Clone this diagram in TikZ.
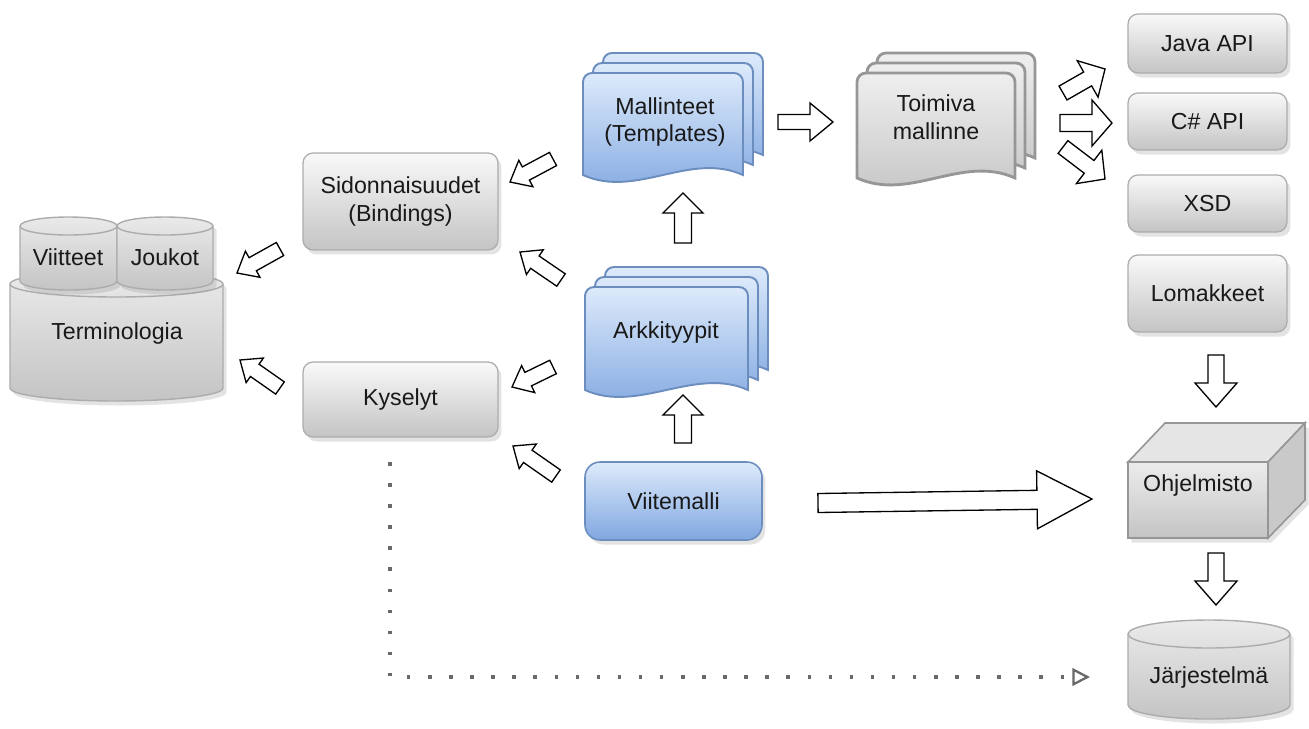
\documentclass[tikz,border=0pt]{standalone}
\usepackage{fontspec}
\setmainfont{Liberation Sans}
\usetikzlibrary{calc,shadows,arrows.meta}

\definecolor{blueTop}{RGB}{221,234,251}
\definecolor{blueBot}{RGB}{128,167,224}
\definecolor{blueLine}{RGB}{108,142,191}
\definecolor{grayTop}{RGB}{249,249,249}
\definecolor{grayBot}{RGB}{196,196,196}
\definecolor{grayLine}{RGB}{172,172,172}
\definecolor{docLine}{RGB}{150,150,150}
\definecolor{dotGray}{RGB}{105,105,105}
\definecolor{txtCol}{RGB}{25,25,25}

% one page of a document stack: x1, y1, x2, y2 (wave base), style
\newcommand\docpage[5]{%
  \path[#5] (#1,#4) -- (#1,{#2+9}) arc[start angle=180, end angle=270, radius=9]
    -- ({#3-9},#2) arc[start angle=270, end angle=360, radius=9]
    -- (#3,#4) .. controls +(-53,-24) and +(53,24) .. (#1,#4) -- cycle;
}
% cylinder: centre x, x radius, top y, bottom y, y radius, style
\newcommand\cylshape[6]{%
  \path[#6] ({#1-#2},#3) -- ({#1-#2},#4)
    arc[start angle=180, end angle=0, x radius=#2, y radius=#5]
    -- ({#1+#2},#3) arc[start angle=0, end angle=-180, x radius=#2, y radius=#5] -- cycle;
  \draw[draw=grayLine, line width=0.8pt] ({#1-#2},#3)
    arc[start angle=180, end angle=0, x radius=#2, y radius=#5];
}
% hollow block arrow: tail, tip, shaft half width, head half width, head length
\newcommand\blockarrow[5]{%
  \coordinate (ba-base) at ($(#2)!#5!(#1)$);
  \draw[blockarrow]
    ($(#1)!#3!90:(#2)$) -- ($(ba-base)!#3!-90:(#1)$) -- ($(ba-base)!#4!-90:(#1)$)
    -- (#2) -- ($(ba-base)!#4!90:(#1)$) -- ($(ba-base)!#3!90:(#1)$)
    -- ($(#1)!#3!-90:(#2)$) -- cycle;
}

\tikzset{
  txt/.style={font=\fontsize{13.2}{15.8}\selectfont, align=center, text=txtCol},
  shadowed/.style={drop shadow={opacity=0.22, shadow xshift=0.07cm, shadow yshift=-0.09cm}},
  graybox/.style={txt, shadowed, draw=grayLine, line width=0.7pt, rounded corners=0.2cm,
    top color=grayTop, bottom color=grayBot, inner sep=0pt},
  bluebox/.style={txt, shadowed, draw=blueLine, line width=0.9pt, rounded corners=0.3cm,
    top color=blueTop, bottom color=blueBot, inner sep=0pt},
  bluepage/.style={draw=blueLine, line width=1.1pt, top color=blueTop, bottom color=blueBot},
  graypage/.style={draw=docLine, line width=1.6pt, top color=grayTop!96!black, bottom color=grayBot},
  cylbody/.style={shadowed, draw=grayLine, line width=0.8pt, top color=grayTop!94!black, bottom color=grayBot},
  blockarrow/.style={draw=black, fill=white, line width=0.75pt, line join=miter},
  dotline/.style={draw=dotGray, line width=2pt, dash pattern=on 2pt off 10pt,
    -{Triangle[open, length=10pt, width=10pt, line width=1.3pt]}},
}

\begin{document}
\begin{tikzpicture}[x=0.02cm, y=-0.02cm]
\useasboundingbox (0,0) rectangle (1309,728);

% ---------- Terminologia with its two parts ----------
\cylshape{116.5}{106.5}{284}{388}{13}{cylbody}
\cylshape{68.5}{48.5}{226}{281}{9}{cylbody}
\cylshape{165}{48}{226}{281}{9}{cylbody}
\node[txt] (term) at (117,333) {Terminologia};
\node[txt] (viit) at (68,257) {Viitteet};
\node[txt] (jouk) at (165,257) {Joukot};

% ---------- grey boxes ----------
\node[graybox, minimum width=3.9cm, minimum height=1.94cm] (sid) at (400.5,201.5) {Sidonnaisuudet\\(Bindings)};
\node[graybox, minimum width=3.9cm, minimum height=1.5cm] (kys) at (400.5,399.5) {Kyselyt};
\node[graybox, minimum width=3.18cm, minimum height=1.18cm] (java) at (1207.5,43.5) {Java API};
\node[graybox, minimum width=3.18cm, minimum height=1.14cm] (csh) at (1207.5,121.5) {C\# API};
\node[graybox, minimum width=3.18cm, minimum height=1.14cm] (xsd) at (1207.5,203.5) {XSD};
\node[graybox, minimum width=3.18cm, minimum height=1.54cm] (lom) at (1207.5,293.5) {Lomakkeet};

% ---------- document stacks ----------
\docpage{603}{53}{763}{155}{bluepage}
\docpage{593}{63}{753}{165}{bluepage}
\docpage{583}{73}{743}{175}{bluepage}
\node[txt] (mall) at (665,122) {Mallinteet\\(Templates)};

\docpage{605}{267}{768}{370}{bluepage}
\docpage{595}{277}{758}{380}{bluepage}
\docpage{585}{287}{748}{390}{bluepage}
\node[txt] (ark) at (666,332) {Arkkityypit};

\docpage{877}{53}{1035}{158}{graypage}
\docpage{867}{63}{1025}{168}{graypage}
\docpage{857}{73}{1015}{178}{graypage}
\node[txt] (toim) at (936,117) {Toimiva\\mallinne};

% ---------- Viitemalli ----------
\node[bluebox, minimum width=3.54cm, minimum height=1.56cm] (viite) at (673.5,501) {Viitemalli};

% ---------- Ohjelmisto cube ----------
\path[shadowed, fill=grayBot] (1128,462) -- (1165,423) -- (1305,423) -- (1305,500) -- (1268,538) -- (1128,538) -- cycle;
\path[draw=docLine, line width=0.9pt, fill=grayTop!92!black] (1128,462) -- (1165,423) -- (1305,423) -- (1268,462) -- cycle;
\path[draw=docLine, line width=0.9pt, fill=grayBot!92!white] (1268,462) -- (1305,423) -- (1305,500) -- (1268,538) -- cycle;
\path[draw=docLine, line width=0.9pt, top color=grayTop!95!black, bottom color=grayBot] (1128,462) rectangle (1268,538);
\node[txt] (ohj) at (1198,485) {Ohjelmisto};

% ---------- Järjestelmä ----------
\cylshape{1209}{81}{634}{705}{14}{cylbody}
\node[txt] (jarj) at (1209,677) {Järjestelmä};

% ---------- block arrows ----------
\coordinate (a1t) at (553,159);  \coordinate (a1h) at (510,182);
\coordinate (a2t) at (561,280);  \coordinate (a2h) at (520,252);
\coordinate (a3t) at (553,367);  \coordinate (a3h) at (512,387);
\coordinate (a4t) at (556,476);  \coordinate (a4h) at (513,446);
\coordinate (a5t) at (280,249);  \coordinate (a5h) at (237,273);
\coordinate (a6t) at (280,388);  \coordinate (a6h) at (240,360);
\blockarrow{a1t}{a1h}{0.15cm}{0.3cm}{0.36cm}
\blockarrow{a2t}{a2h}{0.15cm}{0.3cm}{0.36cm}
\blockarrow{a3t}{a3h}{0.15cm}{0.3cm}{0.36cm}
\blockarrow{a4t}{a4h}{0.15cm}{0.3cm}{0.36cm}
\blockarrow{a5t}{a5h}{0.15cm}{0.3cm}{0.36cm}
\blockarrow{a6t}{a6h}{0.15cm}{0.3cm}{0.36cm}

\coordinate (u1t) at (683,243);  \coordinate (u1h) at (683,193);
\coordinate (u2t) at (683,443);  \coordinate (u2h) at (683,395);
\blockarrow{u1t}{u1h}{0.17cm}{0.4cm}{0.4cm}
\blockarrow{u2t}{u2h}{0.17cm}{0.4cm}{0.4cm}

\coordinate (r1t) at (778,122);  \coordinate (r1h) at (833,122);
\blockarrow{r1t}{r1h}{0.15cm}{0.38cm}{0.46cm}

\coordinate (j1t) at (1063,93);  \coordinate (j1h) at (1105,69);
\coordinate (j2t) at (1060,123); \coordinate (j2h) at (1112,123);
\coordinate (j3t) at (1063,147); \coordinate (j3h) at (1105,179);
\blockarrow{j1t}{j1h}{0.16cm}{0.42cm}{0.4cm}
\blockarrow{j2t}{j2h}{0.17cm}{0.46cm}{0.4cm}
\blockarrow{j3t}{j3h}{0.16cm}{0.42cm}{0.4cm}

\coordinate (d1t) at (1216,355); \coordinate (d1h) at (1216,407);
\coordinate (d2t) at (1216,553); \coordinate (d2h) at (1216,605);
\blockarrow{d1t}{d1h}{0.16cm}{0.42cm}{0.48cm}
\blockarrow{d2t}{d2h}{0.16cm}{0.42cm}{0.48cm}

\coordinate (bt) at (818,503);   \coordinate (bh) at (1092,499);
\blockarrow{bt}{bh}{0.19cm}{0.58cm}{1.1cm}

% ---------- dotted link from Kyselyt to Järjestelmä ----------
\coordinate (dotA) at (390,462);
\coordinate (dotB) at (1090,677);
\draw[dotline] (dotA) |- (dotB);

\end{tikzpicture}
\end{document}
